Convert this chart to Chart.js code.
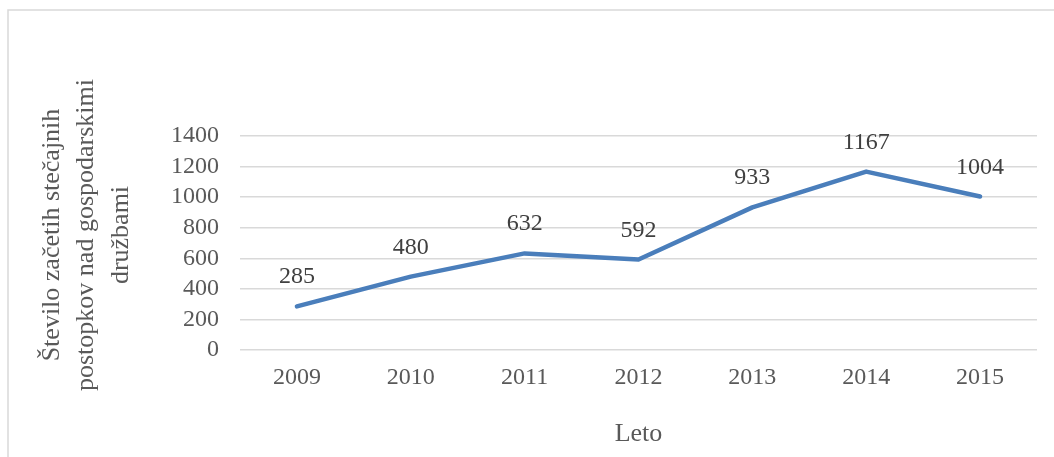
<!DOCTYPE html>
<html>
<head>
<meta charset="utf-8">
<script src="https://cdn.jsdelivr.net/npm/chart.js@4/dist/chart.umd.min.js"></script>
<style>
  html, body { margin: 0; padding: 0; background: #ffffff; }
  #wrap { width: 1054px; height: 457px; position: relative; }
</style>
</head>
<body>
<div id="wrap"><canvas id="chart" width="1054" height="457"></canvas></div>
<script>
const years = ['2009', '2010', '2011', '2012', '2013', '2014', '2015'];
const cases = [285, 480, 632, 592, 933, 1167, 1004];
const yTitleLines = ['Število začetih stečajnih', 'postopkov nad gospodarskimi', 'družbami'];
const xTitle = 'Leto';

const SERIF = '"Liberation Serif", "Times New Roman", serif';

// Light frame around the whole chart
const framePlugin = {
  id: 'frame',
  beforeDraw(chart) {
    const ctx = chart.ctx;
    ctx.save();
    ctx.strokeStyle = '#d9d9d9';
    ctx.lineWidth = 1.5;
    ctx.beginPath();
    ctx.moveTo(8, chart.height + 5);
    ctx.lineTo(8, 10);
    ctx.lineTo(chart.width + 5, 10);
    ctx.stroke();
    ctx.restore();
  }
};

// Three-line vertical title for the value axis
const yTitlePlugin = {
  id: 'yTitle',
  afterDraw(chart) {
    const ctx = chart.ctx;
    const area = chart.chartArea;
    const cy = (area.top + area.bottom) / 2 - 8;
    ctx.save();
    ctx.font = '26px ' + SERIF;
    ctx.fillStyle = '#595959';
    ctx.textAlign = 'center';
    ctx.textBaseline = 'middle';
    yTitleLines.forEach((line, i) => {
      ctx.save();
      ctx.translate(52 + i * 34.5, cy);
      ctx.rotate(-Math.PI / 2);
      ctx.fillText(line, 0, 0);
      ctx.restore();
    });
    ctx.restore();
  }
};

// Value labels above each point
const valueLabels = {
  id: 'valueLabels',
  afterDatasetsDraw(chart) {
    const ctx = chart.ctx;
    const meta = chart.getDatasetMeta(0);
    const data = chart.data.datasets[0].data;
    ctx.save();
    ctx.font = '24px ' + SERIF;
    ctx.fillStyle = '#404040';
    ctx.textAlign = 'center';
    ctx.textBaseline = 'alphabetic';
    meta.data.forEach((pt, i) => {
      ctx.fillText(String(data[i]), pt.x, pt.y - 23);
    });
    ctx.restore();
  }
};

new Chart(document.getElementById('chart'), {
  type: 'line',
  data: {
    labels: years,
    datasets: [{
      data: cases,
      borderColor: '#4a7ebb',
      backgroundColor: '#4a7ebb',
      borderWidth: 4.5,
      borderCapStyle: 'round',
      borderJoinStyle: 'round',
      pointRadius: 0,
      pointHoverRadius: 0,
      tension: 0,
      fill: false
    }]
  },
  options: {
    responsive: false,
    animation: false,
    devicePixelRatio: 1,
    layout: { padding: { left: 0, top: 136, right: 17, bottom: 0 } },
    plugins: {
      legend: { display: false },
      tooltip: { enabled: false }
    },
    scales: {
      x: {
        offset: true,
        grid: { display: false, drawTicks: false },
        border: { display: false },
        ticks: {
          color: '#595959',
          font: { family: SERIF, size: 24 },
          padding: 13,
          maxRotation: 0,
          autoSkip: false
        },
        title: {
          display: true,
          text: xTitle,
          color: '#595959',
          font: { family: SERIF, size: 26, lineHeight: 1.05 },
          padding: { top: 0, bottom: 9.5 }
        },
        afterFit(scale) { scale.height = 107; }
      },
      y: {
        min: 0,
        max: 1400,
        grid: { color: '#d9d9d9', lineWidth: 1.5, drawTicks: false },
        border: { display: false },
        ticks: {
          stepSize: 200,
          autoSkip: false,
          color: '#595959',
          font: { family: SERIF, size: 24 },
          padding: 21,
          callback: (value) => String(value)
        },
        title: { display: false },
        afterFit(scale) { scale.width = 240; }
      }
    }
  },
  plugins: [framePlugin, yTitlePlugin, valueLabels]
});
</script>
</body>
</html>
